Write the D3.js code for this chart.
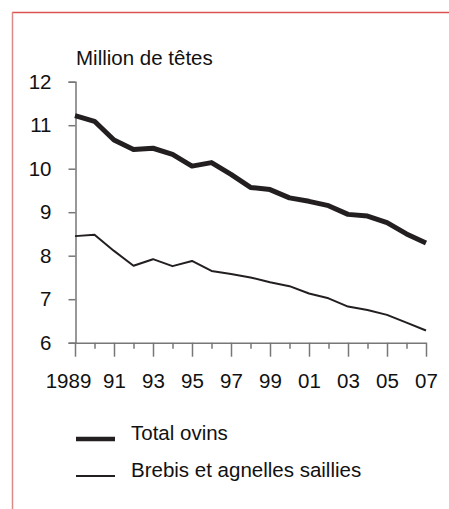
<!DOCTYPE html>
<html>
<head>
<meta charset="utf-8">
<script src="https://cdn.jsdelivr.net/npm/d3@7"></script>
<style>
  body { margin: 0; background: #fff; }
  text { font-family: "Liberation Sans", Arial, sans-serif; fill: #111; }
</style>
</head>
<body>
<svg width="449" height="509"></svg>
<script>
var years = [1989, 1990, 1991, 1992, 1993, 1994, 1995, 1996, 1997, 1998,
             1999, 2000, 2001, 2002, 2003, 2004, 2005, 2006, 2007];
var totalOvins = [11.22, 11.09, 10.66, 10.44, 10.47, 10.33, 10.06, 10.14, 9.87, 9.57,
                  9.52, 9.33, 9.25, 9.15, 8.95, 8.91, 8.76, 8.50, 8.29];
var brebis = [8.45, 8.48, 8.11, 7.77, 7.92, 7.76, 7.88, 7.65, 7.58, 7.50,
              7.39, 7.30, 7.13, 7.02, 6.83, 6.75, 6.64, 6.46, 6.28];
var yTicks = [6, 7, 8, 9, 10, 11, 12];
var seriesNames = ["Total ovins", "Brebis et agnelles saillies"];

var svg = d3.select("svg");

// red frame (only top and left edges visible)
svg.append("line").attr("x1", 12).attr("x2", 449).attr("y1", 12.5).attr("y2", 12.5)
    .attr("stroke", "#d9534f").attr("stroke-width", 1.5);
svg.append("line").attr("x1", 12.5).attr("x2", 12.5).attr("y1", 12).attr("y2", 509)
    .attr("stroke", "#dc8a86").attr("stroke-width", 1.5);

var x = d3.scaleLinear().domain([1989, 2007]).range([75, 426]),
    y = d3.scaleLinear().domain([6, 12]).range([342.7, 81.7]);

svg.append("text")
    .attr("x", 76).attr("y", 65)
    .style("font-size", "20.5px")
    .text("Million de têtes");

// y axis
var yAxis = svg.append("g")
    .attr("transform", "translate(75.5,0)")
    .call(d3.axisLeft(y).tickValues(yTicks).tickSize(7).tickPadding(17).tickFormat(d3.format("d")));
yAxis.selectAll("line, path").attr("stroke", "#777").attr("stroke-width", 1.5);
yAxis.selectAll("text").style("font-size", "20.5px").attr("fill", "#111");

// x axis: long ticks on odd years, short on even
var xAxis = svg.append("g")
    .attr("transform", "translate(0,342.7)")
    .call(d3.axisBottom(x).tickValues(years).tickSize(0).tickFormat(""));
xAxis.selectAll("path").attr("stroke", "#777").attr("stroke-width", 1.5);
xAxis.selectAll(".tick line")
    .attr("stroke", "#777").attr("stroke-width", 1.5)
    .attr("y2", function(d) { return d % 2 == 1 ? 14 : 6; });
xAxis.selectAll(".tick")
    .filter(function(d) { return d % 2 == 1; })
    .append("text")
    .attr("y", 45).attr("text-anchor", "middle")
    .attr("dx", function(d) { return d == 1989 ? -7 : 0; })
    .style("font-size", "20.5px")
    .text(function(d) { return d == 1989 ? "1989" : String(d).slice(2); });

var line = d3.line()
    .x(function(d, i) { return x(years[i]); })
    .y(function(d) { return y(d); });

svg.append("path").datum(brebis)
    .attr("d", line)
    .attr("fill", "none").attr("stroke", "#231f20").attr("stroke-width", 2)
    .attr("stroke-linejoin", "round");

svg.append("path").datum(totalOvins)
    .attr("d", line)
    .attr("fill", "none").attr("stroke", "#231f20").attr("stroke-width", 5)
    .attr("stroke-linejoin", "round");

// legend
var legend = svg.append("g");
var widths = [4.5, 2], ly = [439, 476];
seriesNames.forEach(function(name, i) {
  legend.append("line")
      .attr("x1", 76).attr("x2", 115).attr("y1", ly[i]).attr("y2", ly[i])
      .attr("stroke", "#231f20").attr("stroke-width", widths[i]);
  legend.append("text")
      .attr("x", 131).attr("y", ly[i] + 1)
      .style("font-size", "20.5px")
      .text(name);
});
</script>
</body>
</html>
